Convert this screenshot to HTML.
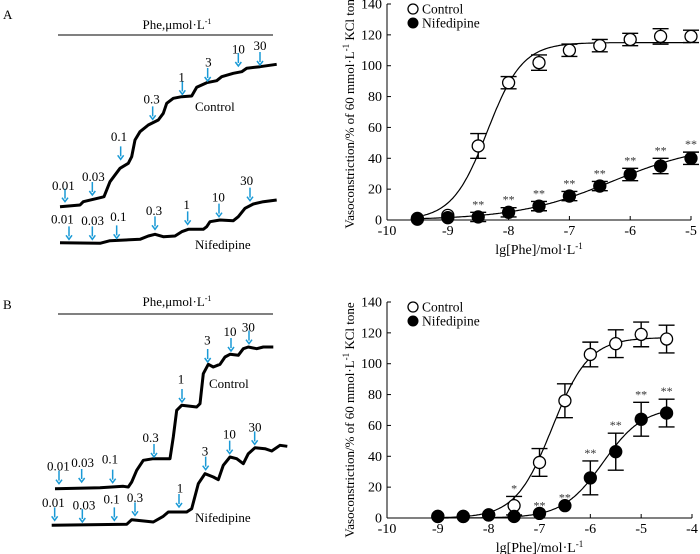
<!DOCTYPE html>
<html><head><meta charset="utf-8">
<style>
body{margin:0;background:#fff;}
svg{display:block;font-family:"Liberation Serif",serif;}
</style></head>
<body>
<svg id="s" width="700" height="554" viewBox="0 0 700 554" xmlns="http://www.w3.org/2000/svg">
<g id="traces"></g>
<g id="chartA"></g>
<g id="chartB"></g>
</svg>
<script>
// ---- Chart A data ----
const xA = [-9.5,-9,-8.5,-8,-7.5,-7,-6.5,-6,-5.5,-5];
const ctrlA = [0.5,3,48,89,102,110,113,117,119,119];
const ctrlErrA = [0,0,8,4,5,4,4,4,5,4];
const nifA = [1,1.5,2,5,9,15.5,22,29.5,35,40];
const nifErrA = [0,0,3,3,3,3,3,4,5,4];
const nifStarsA = ["","","**","**","**","**","**","**","**","**"];
const ctrlStarsA = ["","","","","","","","","",""];
const xTicksA = [-10,-9,-8,-7,-6,-5];
const yTicks = [0,20,40,60,80,100,120,140];
const hillCtrlA = [115,-8.35,1.5]; // top, logEC50, slope
const hillNifA = [50,-6.3,0.55];
// ---- Chart B data ----
const xB = [-9,-8.5,-8,-7.5,-7,-6.5,-6,-5.5,-5,-4.5];
const ctrlB = [1,1,2,8,36,76,106,113,119,116];
const ctrlErrB = [0,0,0,6,9,11,8,9,8,9];
const nifB = [1,1,2,1,3,8,26,43,64,68];
const nifErrB = [0,0,0,0,0,0,11,12,11,9];
const ctrlStarsB = ["","","","*","","","","","",""];
const nifStarsB = ["","","","","**","**","**","**","**","**"];
const xTicksB = [-10,-9,-8,-7,-6,-5,-4];
const hillCtrlB = [117,-6.75,1.2];
const hillNifB = [72,-5.75,1.1];

const NS="http://www.w3.org/2000/svg";
function mk(tag,attrs,parent,txt){const e=document.createElementNS(NS,tag);for(const k in attrs)e.setAttribute(k,attrs[k]);if(txt!==undefined)e.textContent=txt;parent.appendChild(e);return e;}

function chart(g,o){
  const sx=v=>o.x0+(v-o.xmin)/(o.xmax-o.xmin)*(o.x1-o.x0);
  const sy=v=>o.y0-(v/140)*(o.y0-o.y1);
  let a=mk('line',{x1:o.x0,y1:o.y0,x2:o.x1,y2:o.y0,stroke:'#000','stroke-width':1},g);
  
  a=mk('line',{x1:o.x0,y1:o.y0,x2:o.x0,y2:o.y1,stroke:'#000','stroke-width':1},g);
  
  o.xt.forEach(v=>{
    mk('line',{x1:sx(v),y1:o.y0,x2:sx(v),y2:o.y0-4,stroke:'#000'},g);
    const t=mk('text',{x:sx(v),y:o.y0+15,'text-anchor':'middle','font-size':14},g,String(v));
    
  });
  yTicks.forEach(v=>{
    mk('line',{x1:o.x0,y1:sy(v),x2:o.x0+4,y2:sy(v),stroke:'#000'},g);
    const t=mk('text',{x:o.x0-5,y:sy(v)+4.5,'text-anchor':'end','font-size':14},g,String(v));
    
  });
  let t=mk('text',{x:0,y:0,'text-anchor':'middle','font-size':13,transform:`translate(${o.x0-33},${o.tc}) rotate(-90)`},g);
  t.innerHTML='Vasoconstriction/% of 60 mmol·L<tspan dy="-5" font-size="9">-1</tspan><tspan dy="5"> KCl tone</tspan>';
  
  t=mk('text',{x:(o.x0+o.x1)/2,y:o.y0+34,'text-anchor':'middle','font-size':14},g);
  t.innerHTML='lg[Phe]/mol·L<tspan dy="-5" font-size="9">-1</tspan>';
  
  [[o.hc,'control-fit-curve'],[o.hn,'nifedipine-fit-curve']].forEach(([h,n])=>{
    let d='';for(let x=o.cstart;x<=o.cend+1e-9;x+=0.02){const y=h[0]/(1+Math.pow(10,h[2]*(h[1]-x)));d+=(d?'L':'M')+sx(x).toFixed(1)+','+sy(y).toFixed(1);}
    const p=mk('path',{d:d,fill:'none',stroke:'#000','stroke-width':1.2},g);
    
  });
  [[o.c,o.ce,o.cs,'#fff','control'],[o.n,o.ne,o.ns,'#000','nifedipine']].forEach(([vals,errs,stars,fill,nm])=>{
    o.xs.forEach((xv,i)=>{
      const cx=sx(xv),cy=sy(vals[i]),e=errs[i];
      if(e>0){
        const eb=mk('path',{d:`M${cx},${sy(vals[i]-e)}V${sy(vals[i]+e)}M${cx-8},${sy(vals[i]+e)}h16M${cx-8},${sy(vals[i]-e)}h16`,stroke:'#000','stroke-width':1.4,fill:'none'},g);
        
      }
      const c=mk('circle',{cx:cx,cy:cy,r:6,fill:fill,stroke:'#000','stroke-width':1.3},g);
      
      if(stars[i]){const s=mk('text',{x:cx,y:sy(vals[i]+e)-4,'text-anchor':'middle','font-size':12,fill:'#333'},g,stars[i]);
        }
    });
  });
  let c=mk('circle',{cx:o.x0+26,cy:o.ly,r:5,fill:'#fff',stroke:'#000','stroke-width':1.3},g);
  
  t=mk('text',{x:o.x0+35,y:o.ly+4.5,'font-size':13.5},g,'Control');
  
  c=mk('circle',{cx:o.x0+26,cy:o.ly+14,r:5,fill:'#000',stroke:'#000'},g);
  
  t=mk('text',{x:o.x0+35,y:o.ly+18.5,'font-size':13.5},g,'Nifedipine');
  
}
chart(document.getElementById('chartA'),{x0:387,x1:691,xmin:-10,xmax:-5,y0:220,y1:4,xt:xTicksA,xs:xA,c:ctrlA,ce:ctrlErrA,cs:ctrlStarsA,n:nifA,ne:nifErrA,ns:nifStarsA,hc:hillCtrlA,hn:hillNifA,cstart:-9.4,cend:-5,ly:9,tc:111});
chart(document.getElementById('chartB'),{x0:387,x1:692,xmin:-10,xmax:-4,y0:518,y1:302,xt:xTicksB,xs:xB,c:ctrlB,ce:ctrlErrB,cs:ctrlStarsB,n:nifB,ne:nifErrB,ns:nifStarsB,hc:hillCtrlB,hn:hillNifB,cstart:-9,cend:-4.5,ly:307,tc:420});

const tg=document.getElementById('traces');
function trace(pts,oy,name){
  const d=pts.map((p,i)=>(i?'L':'M')+(p[0]/3).toFixed(1)+','+(p[1]/3+oy).toFixed(1)).join('');
  const p=mk('path',{d:d,fill:'none',stroke:'#000','stroke-width':3,'stroke-linejoin':'round'},tg);
  
}
function arrows(list,oy,name){
  list.forEach(a=>{
    const x=a[0]/3,y=a[1]/3+oy;
    const ar=mk('path',{d:`M${x},${y-13}V${y-3}M${x-3},${y-4}L${x},${y}L${x+3},${y-4}`,stroke:'#1a9ad6','stroke-width':1.5,fill:'none'},tg);
    
    const t=mk('text',{x:a[3]/3,y:a[4]/3+oy+5,'text-anchor':'middle','font-size':13},tg,a[2]);
    
  });
}
function label(txt,x,y,n,anchor){const t=mk('text',{x:x,y:y,'font-size':13,'text-anchor':anchor||'start'},tg,txt);return t;}

let t=label('A',3,19,'panel-a-label');
t=mk('text',{x:177,y:29,'text-anchor':'middle','font-size':13},tg);t.innerHTML='Phe,μmol·L<tspan dy="-5" font-size="8">-1</tspan>';

let l=mk('line',{x1:58,y1:35,x2:273,y2:35,stroke:'#000','stroke-width':1},tg);

trace([[180,620],[240,615],[250,605],[305,592],[312,590],[330,545],[360,505],[385,490],[395,470],[405,420],[420,395],[445,375],[475,360],[490,340],[500,310],[520,295],[545,290],[575,288],[590,262],[620,248],[650,242],[665,230],[700,220],[725,215],[740,205],[780,200],[830,193]],0,'control-trace-a');
trace([[180,728],[300,730],[330,722],[420,718],[445,708],[465,703],[490,710],[525,708],[545,695],[565,688],[610,688],[620,680],[630,665],[660,660],[700,662],[715,650],[735,625],[760,612],[790,605],[830,600]],0,'nifedipine-trace-a');
arrows([[195,605,'0.01',190,555],[277,585,'0.03',280,528],[362,478,'0.1',357,408],[458,358,'0.3',455,295],[547,283,'1',545,230],[623,243,'3',625,185],[715,198,'10',715,145],[780,195,'30',780,135]],0,'control-a');
arrows([[207,718,'0.01',187,655],[277,718,'0.03',278,660],[350,715,'0.1',355,648],[465,688,'0.3',462,630],[563,673,'1',560,612],[657,650,'10',655,590],[750,602,'30',740,540]],0,'nifedipine-a');
label('Control',195,111,'control-trace-label-a');
label('Nifedipine',195,249,'nifedipine-trace-label-a');

const oy=277;
label('B',3,oy+32,'panel-b-label');
t=mk('text',{x:177,y:oy+29,'text-anchor':'middle','font-size':13},tg);t.innerHTML='Phe,μmol·L<tspan dy="-5" font-size="8">-1</tspan>';

l=mk('line',{x1:58,y1:oy+37,x2:273,y2:oy+37,stroke:'#000','stroke-width':1},tg);

trace([[165,635],[300,632],[370,628],[385,630],[395,615],[410,580],[430,550],[460,545],[510,545],[520,480],[530,400],[545,385],[590,390],[600,380],[610,290],[625,262],[640,270],[660,262],[675,240],[690,232],[715,235],[730,215],[745,210],[770,215],[790,210],[820,210]],oy,'control-trace-b');
trace([[155,745],[380,742],[395,728],[410,730],[460,735],[490,718],[505,705],[560,705],[575,695],[595,620],[615,590],[640,600],[655,608],[670,565],[690,540],[710,545],[730,560],[745,530],[765,512],[795,515],[815,522],[840,505],[862,508]],oy,'nifedipine-trace-b');
arrows([[177,620,'0.01',175,565],[245,615,'0.03',248,555],[338,617,'0.1',330,545],[462,540,'0.3',452,480],[546,375,'1',543,305],[623,255,'3',622,188],[693,222,'10',690,162],[747,200,'30',745,148]],oy,'control-b');
arrows([[164,730,'0.01',160,675],[247,735,'0.03',252,682],[343,730,'0.1',335,665],[405,715,'0.3',405,660],[537,690,'1',540,632],[617,578,'3',615,520],[689,530,'10',688,470],[764,502,'30',765,448]],oy,'nifedipine-b');
label('Control',209,oy+111,'control-trace-label-b');
label('Nifedipine',195,oy+245,'nifedipine-trace-label-b');
</script>
</body></html>
